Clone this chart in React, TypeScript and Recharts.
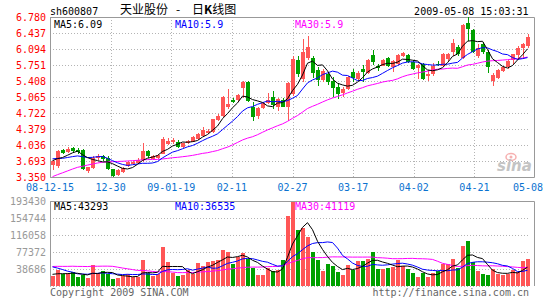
import React from 'react';
import { ComposedChart, Bar, Line, XAxis, YAxis, CartesianGrid, ReferenceArea, Cell } from 'recharts';

// ---- data ----
const dateLabels = ['08-12-15', '12-30', '09-01-19', '02-11', '02-27', '03-17', '04-02', '04-21', '05-08'];
const BARS_PER_LABEL = 12;
const priceTicks = [3.35, 3.693, 4.036, 4.379, 4.722, 5.065, 5.408, 5.751, 6.094, 6.437, 6.78];
const volumeTicks = [38686, 77372, 116058, 154744, 193430];

const opens = [3.60,3.58,3.93,3.88,3.97,3.92,3.92,3.48,3.55,3.76, 3.80,3.76,3.52,3.40,3.46,3.58,3.62,3.66,3.71,3.90, 3.74,3.76,3.85,4.06,4.09,4.11,3.99,4.07,4.11,4.16, 4.23,4.29,4.32,4.58,4.65,4.86,5.01,4.99,5.25,5.39, 4.84,4.65,4.82,4.94,5.06,4.86,5.00,4.86,5.13,5.86, 5.45,5.90,5.90,5.65,5.42,5.55,5.40,5.28,5.15,5.24, 5.60,5.46,5.66,5.57,5.97,5.74,5.74,5.90,5.70,5.78, 5.94,5.96,5.82,5.68,5.78,5.52,5.55,5.78,5.73,5.87, 6.04,6.14,5.91,6.66,6.50,5.95,6.21,6.04,5.41,5.47, 5.62,5.70,5.85,5.97,6.12,6.16];
const highs = [3.72,3.93,3.95,4.00,3.99,3.97,3.95,3.57,3.79,3.84, 3.82,3.80,3.53,3.52,3.57,3.70,3.70,3.75,4.08,3.92, 3.82,3.85,4.20,4.19,4.18,4.14,4.08,4.15,4.22,4.29, 4.43,4.38,4.60,4.70,5.08,5.24,5.04,5.14,5.40,5.40, 4.95,4.84,4.96,5.16,5.20,5.05,5.04,5.38,5.94,5.95, 6.30,6.37,5.95,5.70,5.66,5.60,5.49,5.35,5.27,5.52, 5.67,5.62,5.75,5.87,6.07,5.78,5.87,5.93,5.86,5.98, 6.03,5.99,5.86,5.78,5.80,5.64,5.80,5.83,6.00,6.00, 6.30,6.17,6.62,6.78,6.52,6.20,6.24,6.07,5.59,5.66, 5.73,5.86,5.98,6.16,6.22,6.42];
const lows = [3.50,3.55,3.85,3.86,3.89,3.85,3.50,3.43,3.53,3.72, 3.70,3.50,3.35,3.38,3.44,3.56,3.60,3.64,3.68,3.76, 3.72,3.74,3.84,4.04,4.05,3.98,3.97,4.05,4.09,4.14, 4.21,4.27,4.30,4.56,4.63,4.81,4.94,4.97,5.04,4.95, 4.54,4.59,4.80,4.92,4.81,4.77,4.84,4.56,5.08,5.50, 5.38,5.85,5.48,5.30,5.38,5.33,5.07,5.03,5.06,5.22, 5.39,5.44,5.39,5.55,5.75,5.63,5.72,5.70,5.60,5.76, 5.92,5.80,5.64,5.45,5.42,5.41,5.52,5.72,5.71,5.84, 5.95,5.95,5.89,6.27,6.00,5.91,5.98,5.59,5.30,5.45, 5.60,5.66,5.77,5.91,5.91,6.12];
const closes = [3.70,3.90,3.87,3.96,3.91,3.88,3.52,3.56,3.76,3.79, 3.74,3.52,3.37,3.50,3.55,3.67,3.67,3.72,3.91,3.79, 3.80,3.83,4.16,4.13,4.15,3.99,4.07,4.13,4.20,4.27, 4.36,4.34,4.59,4.65,5.06,4.91,4.96,5.11,5.38,4.97, 4.63,4.82,4.94,5.01,4.89,5.02,4.86,5.36,5.88,5.56, 6.02,6.13,5.58,5.42,5.62,5.38,5.25,5.13,5.24,5.49, 5.47,5.59,5.60,5.85,5.82,5.68,5.85,5.74,5.83,5.96, 6.00,5.82,5.66,5.75,5.45,5.55,5.73,5.76,5.98,5.98, 6.23,5.98,6.60,6.52,6.04,6.12,6.02,5.71,5.53,5.64, 5.71,5.84,5.98,6.12,6.20,6.35];
const volumes = [22700,36100,26500,28500,32500,21200,25000,19000,47300,28700, 33900,26500,16700,19000,22700,27200,19800,19800,58500,28500, 22700,26500,88100,54700,29900,22700,25000,36100,26500,52500, 45000,54500,56900,59100,82300,77000,49500,66200,74800,62200, 39900,25000,25000,39900,33500,36100,58500,158500,191500,127000, 131500,112000,78500,60000,33900,51000,45000,32300,25000,47300, 37500,56900,56500,62200,78500,38400,37700,41300,42100,60000, 45100,38400,30100,19800,28700,19800,28700,33900,51100,51100, 62200,41300,91900,103100,54600,33900,28000,25000,38000,28000, 26000,27000,36000,32000,57000,62000];
// closes / volumes of the sessions just before the window (feed the moving averages)
const preCloses = [2.62,2.70,2.75,2.68,2.78,2.85,2.80,3.05,3.15,3.22, 3.30,3.28,3.35,3.42,3.48,3.45,3.52,3.58,3.65,3.70, 3.82,3.85,3.78,3.72,3.73,3.68,3.75,3.72,3.65];
const preVolumes = [25500,29500,27500,23500,32500,28500,26500,24500,30500,27500, 25500,28500,75500,82500,79500,73500,76500,59500,57500,62300, 63500,59500,65500,55500,58500,29500,25500,28500,26500];

// ---- styles ----
const RED = '#ff5656';
const GREEN = '#00a000';
const MONO = '"DejaVu Sans Mono", monospace';
const GRID = '#b4b4b4';
const BORDER = '#999999';

const movingAverage = (pre: number[], series: number[], n: number) => {
  const all = pre.concat(series);
  return series.map((_, i) => {
    const end = pre.length + i + 1;
    const win = all.slice(end - n, end);
    return win.reduce((a, b) => a + b, 0) / win.length;
  });
};

const ma5 = movingAverage(preCloses, closes, 5);
const ma10 = movingAverage(preCloses, closes, 10);
const ma30 = movingAverage(preCloses, closes, 30);
const vma5 = movingAverage(preVolumes, volumes, 5);
const vma10 = movingAverage(preVolumes, volumes, 10);
const vma30 = movingAverage(preVolumes, volumes, 30);

const rows = closes.map((c, i) => ({
  i,
  open: opens[i], high: highs[i], low: lows[i], close: c,
  range: [lows[i], highs[i]],
  up: c >= opens[i],
  ma5: ma5[i], ma10: ma10[i], ma30: ma30[i],
  vol: volumes[i], vma5: vma5[i], vma10: vma10[i], vma30: vma30[i],
}));

const gridTicks = dateLabels.map((_, k) => k * BARS_PER_LABEL);
const N = closes.length;

const Candle = (props: any) => {
  const { x, y, width, height, payload } = props;
  if (!payload) return null;
  const { open, close, high, low, up } = payload;
  const top = Math.min(y, y + height);
  const h = Math.abs(height);
  const ppu = high > low ? h / (high - low) : 0;
  const yOf = (v: number) => top + (high - v) * ppu;
  const color = up ? RED : GREEN;
  const left = Math.floor(x);
  const w = Math.max(1, Math.round(width));
  const bTop = Math.round(yOf(Math.max(open, close)));
  const bBot = Math.round(yOf(Math.min(open, close)));
  const wTop = Math.round(yOf(high));
  const wBot = Math.round(yOf(low));
  return (
    <g>
      <rect x={left + 2} y={wTop} width={1} height={Math.max(1, wBot - wTop)} fill={color} />
      <rect x={left} y={bTop} width={w} height={Math.max(1, bBot - bTop)} fill={color} />
    </g>
  );
};

const VolBar = (props: any) => {
  const { x, y, width, height, payload } = props;
  if (!payload) return null;
  const top = Math.round(Math.min(y, y + height));
  const bot = Math.round(Math.max(y, y + height));
  return <rect x={Math.floor(x)} y={top} width={Math.max(1, Math.round(width))} height={Math.max(0, bot - top)} fill={payload.up ? RED : GREEN} />;
};

const hLine = (props: any) => {
  const { x1, x2, y1, key } = props;
  const yy = Math.round(y1) + 0.5;
  return <line key={key} x1={x1} x2={x2} y1={yy} y2={yy} stroke={GRID} strokeDasharray="1 2" />;
};
const vLine = (props: any) => {
  const { x1, y1, y2, key } = props;
  const xx = Math.round(x1);
  if (xx <= 51 || xx >= 529) return <g key={key} />;
  return <line key={key} x1={xx + 0.5} x2={xx + 0.5} y1={y1} y2={y2} stroke={GRID} strokeDasharray="1 2" />;
};

const PriceBorder = (props: any) => {
  const { x, y, width, height } = props;
  const l = Math.round(x) + 0.5, t = Math.round(y) + 0.5;
  const r = Math.round(x + width) - 0.5, b = Math.round(y + height) + 0.5;
  return <path d={`M${l},${t}H${r}V${b}H${l}Z`} fill="none" stroke={BORDER} />;
};
const VolBorder = (props: any) => {
  const { x, y, width, height } = props;
  const l = Math.round(x) + 0.5, t = Math.round(y) + 0.5;
  const r = Math.round(x + width) - 0.5, b = Math.round(y + height);
  return <path d={`M${l},${b}V${t}H${r}V${b}`} fill="none" stroke={BORDER} />;
};

const DateTick = (props: any) => {
  const { x, y, payload } = props;
  const k = Math.round(payload.value / BARS_PER_LABEL);
  const last = k === dateLabels.length - 1;
  return (
    <text x={last ? x + 8 : x} y={y + 14} textAnchor={last ? 'end' : 'middle'} fill="#0a72d0" fontSize={10} fontFamily={MONO}>
      {dateLabels[k]}
    </text>
  );
};
const PriceTick = (props: any) => {
  const { x, y, payload } = props;
  return <text x={x} y={y + 3.7} textAnchor="end" fill="#ff0000" fontSize={10} fontFamily={MONO}>{Number(payload.value).toFixed(3)}</text>;
};
const VolTick = (props: any) => {
  const { x, y, payload } = props;
  return <text x={x} y={y + 3.5} textAnchor="end" fill="#999999" fontSize={10} fontFamily={MONO}>{String(payload.value)}</text>;
};

export default function App() {
  return (
    <div style={{ position: 'absolute', left: 0, top: 0, width: 545, height: 300, background: '#fff', overflow: 'hidden' }}>
      <div style={{ position: 'absolute', left: 0, top: 0 }}>
        <ComposedChart width={545} height={200} data={rows} margin={{ top: 17, right: 15, bottom: 10, left: 0 }}>
          <XAxis xAxisId="cat" dataKey="i" type="category" hide height={0} />
          <XAxis xAxisId="grid" type="number" domain={[0, N]} ticks={gridTicks} interval={0} allowDataOverflow height={13} tickSize={0} tickMargin={0} tickLine={false} axisLine={false} tick={<DateTick />} />
          <YAxis yAxisId="p" type="number" domain={[3.35, 6.78]} ticks={priceTicks} interval={0} allowDataOverflow width={50} tickSize={0} tickMargin={4} tickLine={false} axisLine={false} tick={<PriceTick />} />
          <CartesianGrid xAxisId="grid" yAxisId="p" horizontal={hLine} vertical={vLine} />
          <Bar xAxisId="cat" yAxisId="p" dataKey="range" barSize={4} shape={<Candle />} isAnimationActive={false} />
          <Line xAxisId="cat" yAxisId="p" type="linear" dataKey="ma30" stroke="#ff00ff" strokeWidth={1} dot={false} activeDot={false} isAnimationActive={false} />
          <Line xAxisId="cat" yAxisId="p" type="linear" dataKey="ma10" stroke="#0000ff" strokeWidth={1} dot={false} activeDot={false} isAnimationActive={false} />
          <Line xAxisId="cat" yAxisId="p" type="linear" dataKey="ma5" stroke="#000000" strokeWidth={1} dot={false} activeDot={false} isAnimationActive={false} />
          <ReferenceArea xAxisId="grid" yAxisId="p" x1={0} x2={N} y1={3.35} y2={6.78} shape={<PriceBorder />} ifOverflow="visible" />
        </ComposedChart>
      </div>
      <div style={{ position: 'absolute', left: 0, top: 190 }}>
        <ComposedChart width={545} height={110} data={rows} margin={{ top: 11, right: 15, bottom: 14, left: 0 }}>
          <XAxis xAxisId="cat" dataKey="i" type="category" hide height={0} />
          <XAxis xAxisId="grid" type="number" domain={[0, N]} ticks={gridTicks} interval={0} allowDataOverflow height={0} tickSize={0} tick={false} tickLine={false} axisLine={false} />
          <YAxis yAxisId="v" type="number" domain={[0, 193430]} ticks={volumeTicks} interval={0} allowDataOverflow width={50} tickSize={0} tickMargin={4} tickLine={false} axisLine={false} tick={<VolTick />} />
          <CartesianGrid xAxisId="grid" yAxisId="v" horizontal={hLine} vertical={vLine} />
          <Bar xAxisId="cat" yAxisId="v" dataKey="vol" barSize={4} shape={<VolBar />} isAnimationActive={false}>
            {rows.map((r) => <Cell key={r.i} fill={r.up ? RED : GREEN} />)}
          </Bar>
          <Line xAxisId="cat" yAxisId="v" type="linear" dataKey="vma30" stroke="#ff00ff" strokeWidth={1} dot={false} activeDot={false} isAnimationActive={false} />
          <Line xAxisId="cat" yAxisId="v" type="linear" dataKey="vma10" stroke="#0000ff" strokeWidth={1} dot={false} activeDot={false} isAnimationActive={false} />
          <Line xAxisId="cat" yAxisId="v" type="linear" dataKey="vma5" stroke="#000000" strokeWidth={1} dot={false} activeDot={false} isAnimationActive={false} />
          <ReferenceArea xAxisId="grid" yAxisId="v" x1={0} x2={N} y1={0} y2={193430} shape={<VolBorder />} ifOverflow="visible" />
        </ComposedChart>
      </div>
      <svg width={545} height={300} style={{ position: 'absolute', left: 0, top: 0, pointerEvents: 'none' }}>
        <text x={50} y={15} fontSize={10} fontFamily={MONO} fill="#000">sh600807</text>
        <text x={120} y={14} fontSize={12} fontFamily='"Noto Sans CJK SC", sans-serif' fill="#000">天业股份</text>
        <text x={178} y={14} fontSize={12} textAnchor="middle" fontFamily='"Noto Sans CJK SC", sans-serif' fill="#000">-</text>
        <text x={192} y={14} fontSize={12} fontFamily='"Noto Sans CJK SC", sans-serif' fill="#000">日<tspan fontWeight="bold">K</tspan>线图</text>
        <text x={528.5} y={15} fontSize={10} textAnchor="end" fontFamily={MONO} fill="#000">2009-05-08 15:03:31</text>
        <text x={54} y={28} fontSize={10} fontFamily={MONO} fill="#000">MA5:6.09</text>
        <text x={175} y={28} fontSize={10} fontFamily={MONO} fill="#0000ff">MA10:5.9</text>
        <text x={295} y={28} fontSize={10} fontFamily={MONO} fill="#ff00ff">MA30:5.9</text>
        <text x={54} y={209.5} fontSize={10} fontFamily={MONO} fill="#000">MA5:43293</text>
        <text x={175} y={209.5} fontSize={10} fontFamily={MONO} fill="#0000ff">MA10:36535</text>
        <text x={295} y={209.5} fontSize={10} fontFamily={MONO} fill="#ff00ff">MA30:41119</text>
        <ellipse cx={511} cy={157} rx={5} ry={3.5} fill="none" stroke="#f6b0b0" strokeWidth={1.5} />
        <circle cx={511} cy={157} r={1.5} fill="#f6b0b0" />
        <text x={497} y={171} fontSize={15} fontStyle="italic" fontWeight="bold" fontFamily='"DejaVu Sans", sans-serif' fill="#c4c4c4">sina</text>
        <text x={50} y={295.5} fontSize={10} fontFamily={MONO} fill="#666">Copyright 2009 SINA.COM</text>
        <text x={529} y={295.5} fontSize={10} textAnchor="end" fontFamily={MONO} fill="#666">http://finance.sina.com.cn</text>
      </svg>
    </div>
  );
}
